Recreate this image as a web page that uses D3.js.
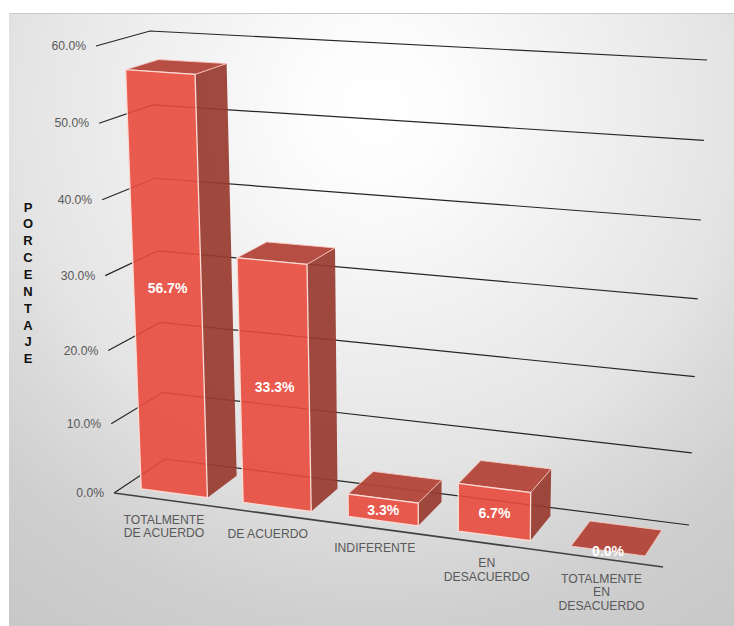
<!DOCTYPE html>
<html>
<head>
<meta charset="utf-8">
<script src="https://cdn.jsdelivr.net/npm/d3@7"></script>
<style>
    html, body { margin: 0; padding: 0; background: #fff; }
    svg { display: block; }
    text { font-family: "Liberation Sans", Arial, sans-serif; }
</style>
</head>
<body>
<div id="chart"></div>
<script>
// DATA
const categories = ["TOTALMENTE DE ACUERDO", "DE ACUERDO", "INDIFERENTE", "EN DESACUERDO", "TOTALMENTE EN DESACUERDO"];
const categoryLines = [["TOTALMENTE", "DE ACUERDO"], ["DE ACUERDO"], ["INDIFERENTE"], ["EN", "DESACUERDO"], ["TOTALMENTE", "EN", "DESACUERDO"]];
const values = [56.7, 33.3, 3.3, 6.7, 0.0];
const yTicks = [0, 10, 20, 30, 40, 50, 60];
const axisTitle = "PORCENTAJE";

const width = 734;
const height = 626;

// corners of the 3D box as seen on the picture
const floorFL = [114, 493], floorFR = [663, 567], floorBL = [165, 459], floorBR = [689, 525];
const topFL = [96, 46], topFR = [672, 84], topBL = [150, 31], topBR = [707, 60];

const lerp = (a, b, t) => [a[0] + (b[0] - a[0]) * t, a[1] + (b[1] - a[1]) * t];

// value -> height in box, slightly stretched towards the top (perspective)
const yScale = d3.scalePow().exponent(1.04).domain([0, 60]).range([0, 1]);
const band = d3.scaleBand().domain(categories).range([0, 1]);
// band centres -> position along the floor edge, perspective again
const xWarp = d3.scaleLinear()
    .domain([0.1, 0.3, 0.5, 0.7, 0.9])
    .range([0.093, 0.282, 0.477, 0.681, 0.89]);

// c: along the categories, z: depth, v: value
const project = (c, z, v) => {
    const floor = lerp(lerp(floorFL, floorFR, c), lerp(floorBL, floorBR, c), z);
    const top = lerp(lerp(topFL, topFR, c), lerp(topBL, topBR, c), z);
    return lerp(floor, top, yScale(v));
};

const svg = d3.select("#chart").append("svg")
    .attr("width", width)
    .attr("height", height);

const line = d3.line();

const grad = svg.append("defs").append("radialGradient")
    .attr("id", "bg")
    .attr("gradientUnits", "userSpaceOnUse")
    .attr("cx", 375).attr("cy", 110).attr("r", 640);
grad.append("stop").attr("offset", "0").attr("stop-color", "#ffffff");
grad.append("stop").attr("offset", "0.1").attr("stop-color", "#fdfdfd");
grad.append("stop").attr("offset", "0.56").attr("stop-color", "#e4e4e4");
grad.append("stop").attr("offset", "0.65").attr("stop-color", "#dbdbdb");
grad.append("stop").attr("offset", "0.8").attr("stop-color", "#cfcfcf");
grad.append("stop").attr("offset", "1").attr("stop-color", "#c7c7c7");

// background runs off the right and bottom of the page
svg.append("rect")
    .attr("x", 9).attr("y", 13)
    .attr("width", width - 9).attr("height", height - 13)
    .attr("fill", "url(#bg)");

svg.append("path")
    .attr("d", line([[9, 13.5], [width, 13.5]]))
    .attr("stroke", "#cacaca");

// Grid lines
svg.append("g").selectAll("path")
    .data(yTicks)
    .enter()
    .append("path")
    .attr("d", d => line([project(0, 0, d), project(0, 1, d), project(1, 1, d)]))
    .attr("fill", "none")
    .attr("stroke", "#262626")
    .attr("stroke-width", 1.2);

// Front edge of the floor
svg.append("path")
    .attr("d", line([project(1, 0, 0), project(0, 0, 0)]))
    .attr("fill", "none")
    .attr("stroke", "#404040")
    .attr("stroke-width", 1.5);

// Y tick labels
svg.append("g").selectAll("text")
    .data(yTicks)
    .enter()
    .append("text")
    .attr("x", d => project(0, 0, d)[0] - 10)
    .attr("y", d => project(0, 0, d)[1])
    .attr("dy", "0.35em")
    .attr("text-anchor", "end")
    .attr("font-size", 12.2)
    .attr("fill", "#595959")
    .text(d => d.toFixed(1) + "%");

// Axis title, one letter per row
svg.append("g").selectAll("text")
    .data(axisTitle.split(""))
    .enter()
    .append("text")
    .attr("x", 28)
    .attr("y", (d, i) => 207 + i * 16.85)
    .attr("dy", "0.35em")
    .attr("text-anchor", "middle")
    .attr("font-size", 13)
    .attr("font-weight", "bold")
    .attr("fill", "#111")
    .text(d => d);

// Bars
const z0 = 0.19, z1 = 0.81;
const barData = categories.map((name, i) => {
    const c = xWarp(band(name) + band.bandwidth() / 2);
    return { name, value: values[i], lines: categoryLines[i], c, hw: 0.06 + 0.009 * c };
});

const bars = svg.append("g").selectAll("g")
    .data(barData)
    .enter()
    .append("g");

const poly = pts => line(pts) + "Z";

bars.filter(d => d.value > 0).append("path")
    .attr("d", d => poly([
        project(d.c + d.hw, z0, 0), project(d.c + d.hw, z1, 0),
        project(d.c + d.hw, z1, d.value), project(d.c + d.hw, z0, d.value)]))
    .attr("fill", "#973a2f")
    .attr("fill-opacity", 0.92);

bars.append("path")
    .attr("d", d => poly([
        project(d.c - d.hw, z0, d.value), project(d.c + d.hw, z0, d.value),
        project(d.c + d.hw, z1, d.value), project(d.c - d.hw, z1, d.value)]))
    .attr("fill", "#b2443a")
    .attr("fill-opacity", 0.95)
    .attr("stroke", "#f6c9bf")
    .attr("stroke-width", 0.9);

bars.filter(d => d.value > 0).append("path")
    .attr("d", d => poly([
        project(d.c - d.hw, z0, 0), project(d.c + d.hw, z0, 0),
        project(d.c + d.hw, z0, d.value), project(d.c - d.hw, z0, d.value)]))
    .attr("fill", "#e8493d")
    .attr("fill-opacity", 0.9)
    .attr("stroke", "#fbdcd4")
    .attr("stroke-width", 1.3);

// Data labels
bars.append("text")
    .attr("x", d => project(d.c, z0, d.value / 2)[0])
    .attr("y", d => project(d.c, z0, d.value / 2)[1])
    .attr("dy", "0.35em")
    .attr("text-anchor", "middle")
    .attr("font-size", 14)
    .attr("font-weight", "bold")
    .attr("fill", "#fff")
    .text(d => d.value.toFixed(1) + "%");

// Category labels
bars.append("text")
    .attr("text-anchor", "middle")
    .attr("font-size", 12.2)
    .attr("fill", "#595959")
    .each(function (d) {
        const [x, y] = project(d.c - 0.002, 0, 0);
        d3.select(this).selectAll("tspan")
            .data(d.lines)
            .enter()
            .append("tspan")
            .attr("x", x)
            .attr("y", (l, i) => y + 24 + i * 13.4)
            .text(l => l);
    });
</script>
</body>
</html>
